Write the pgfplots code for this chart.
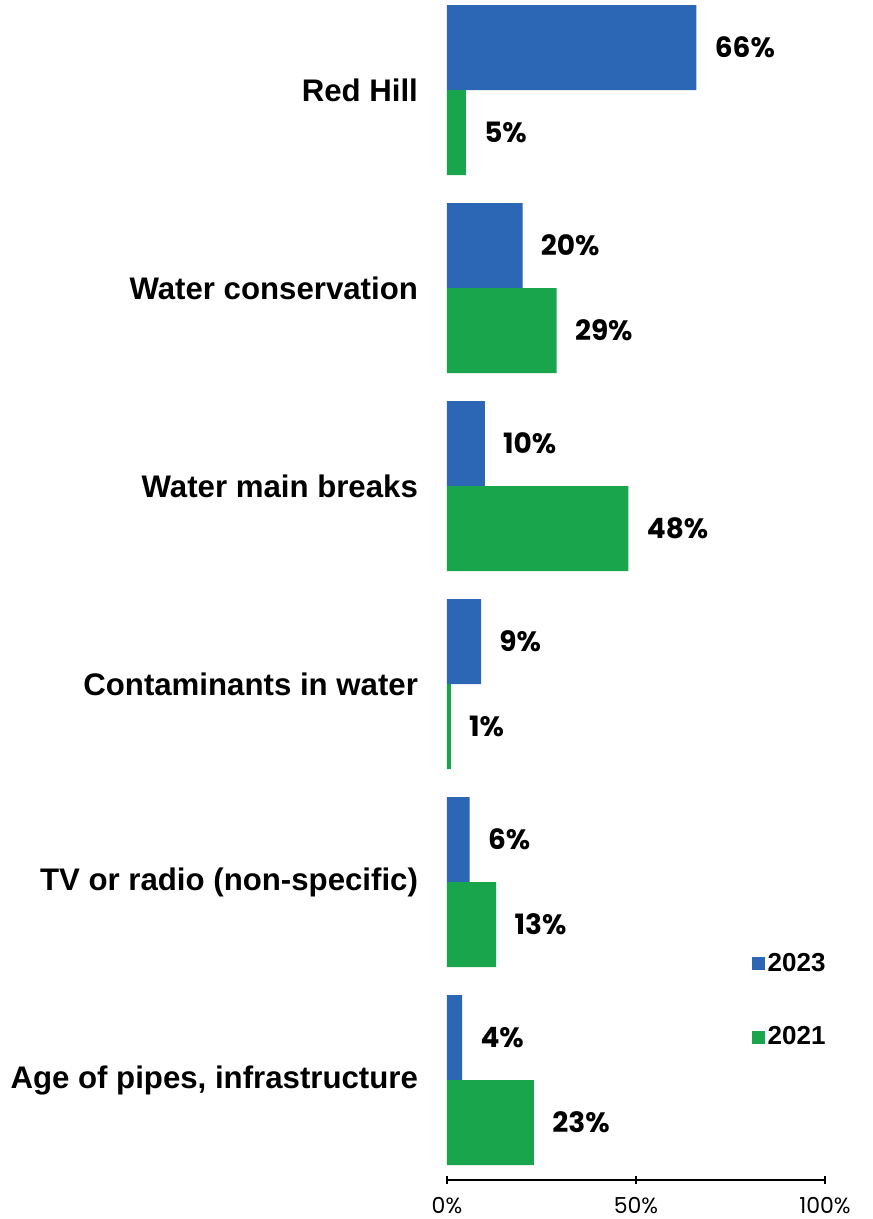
\documentclass[border=0pt]{standalone}
\usepackage{pgfplots}
\pgfplotsset{compat=1.18}
\usepackage{fontspec}
\setmainfont{Liberation Sans}
\newfontfamily\valfont{Poppins}
\definecolor{b23}{RGB}{44,103,182}
\definecolor{g21}{RGB}{24,165,76}
\pgfplotsset{sq/.style={legend image code/.code={\fill[##1] (0pt,-3.25pt) rectangle (6.5pt,3.25pt);}}}
\begin{document}
\begin{tikzpicture}
\begin{axis}[
  scale only axis,
  width=189pt, height=590pt,
  xbar, bar width=42.5pt,
  xmin=0, xmax=100,
  ymin=-0.505, ymax=5.455,
  /pgf/number format/assume math mode=true,
  axis x line=bottom, axis y line=left,
  y axis line style={draw=none},
  ytick style={draw=none},
  x axis line style={-, line width=1pt},
  xtick style={line width=1pt, black},
  tick align=center, major tick length=4pt,
  xtick={0,50,100}, xticklabels={0\%,50\%,100\%},
  xticklabel style={font=\valfont\fontsize{11}{13}\selectfont, yshift=-3pt},
  ytick={0,1,2,3,4,5},
  yticklabels={{Age of pipes, infrastructure},{TV or radio (non-specific)},{Contaminants in water},{Water main breaks},{Water conservation},{Red Hill}},
  yticklabel style={font=\bfseries\fontsize{15.6}{18}\selectfont, xshift=-9pt},
  nodes near coords={\pgfmathprintnumber[assume math mode=true]{\pgfplotspointmeta}\%},
  nodes near coords style={font=\valfont\bfseries\fontsize{14}{16}\selectfont, inner sep=0pt, xshift=9pt, anchor=west, black},
  legend style={draw=none, fill=none, at={(rel axis cs:0.805,0.195)}, anchor=north west,
    font=\bfseries\fontsize{13}{15}\selectfont, row sep=23pt, inner sep=0pt, nodes={inner sep=1.5pt}},
  legend cell align=left,
  clip=false,
]
\addplot[fill=b23, draw=none, bar shift=21.25pt, sq] coordinates {(4,0) (6,1) (9,2) (10,3) (20,4) (66,5)};
\addplot[fill=g21, draw=none, bar shift=-21.25pt, sq] coordinates {(23,0) (13,1) (1,2) (48,3) (29,4) (5,5)};
\legend{2023,2021}
\end{axis}
\pgfresetboundingbox
\path[use as bounding box] ([xshift=-223.5pt,yshift=-19.5pt]current axis.south west) rectangle ([xshift=23.5pt]current axis.north east);
\end{tikzpicture}
\end{document}
